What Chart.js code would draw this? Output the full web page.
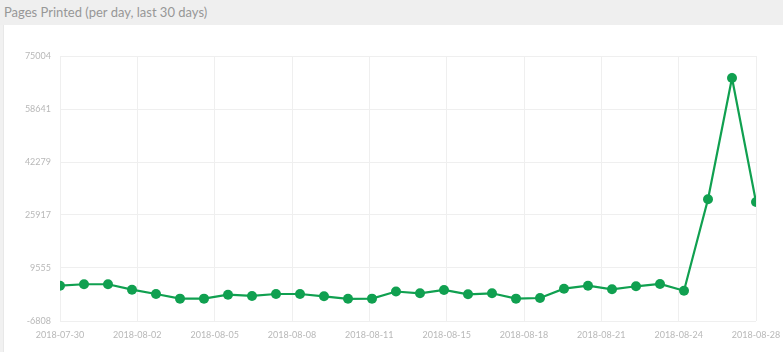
<!DOCTYPE html>
<html>
<head>
<meta charset="utf-8">
<script src="https://cdn.jsdelivr.net/npm/chart.js@4/dist/chart.umd.min.js"></script>
<style>
  html, body { margin: 0; padding: 0; background: #f1f1f1; }
  body { width: 783px; height: 352px; overflow: hidden; position: relative; font-family: Lato, sans-serif; }
  .header { position: absolute; left: 0; top: 0; width: 783px; height: 25px; background: #efefef; }
  .header span { position: absolute; left: 4px; top: 4px; font-size: 13px; color: #979797; }
  .panel { position: absolute; left: 3px; top: 25px; width: 780px; height: 327px; background: #fff; border-left: 1px solid #e8e8e8; }
  #pagesChart { position: absolute; left: 0; top: 0; }
</style>
</head>
<body>
<div class="header"><span>Pages Printed (per day, last 30 days)</span></div>
<div class="panel"><canvas id="pagesChart" width="780" height="327"></canvas></div>
<script>
const dates = [
  '2018-07-30', '2018-07-31', '2018-08-01', '2018-08-02', '2018-08-03', '2018-08-04',
  '2018-08-05', '2018-08-06', '2018-08-07', '2018-08-08', '2018-08-09', '2018-08-10',
  '2018-08-11', '2018-08-12', '2018-08-13', '2018-08-14', '2018-08-15', '2018-08-16',
  '2018-08-17', '2018-08-18', '2018-08-19', '2018-08-20', '2018-08-21', '2018-08-22',
  '2018-08-23', '2018-08-24', '2018-08-25', '2018-08-26', '2018-08-27', '2018-08-28'
];
const pages = [
  4100, 4530, 4530, 2860, 1530, 90, 90, 1320, 920, 1530, 1530, 820,
  40, 90, 2300, 1750, 2770, 1440, 1750, 90, 300, 3170, 4100, 2980,
  3910, 4620, 2550, 30770, 68185, 29930
];
const yTicks = [-6808, 9555, 25917, 42279, 58641, 75004];
const xTickCount = 10;

const points = pages.map((v, i) => ({ x: i, y: v }));
const green = '#10a050';

const ctx = document.getElementById('pagesChart').getContext('2d');
const pagesChart = new Chart(ctx, {
  type: 'line',
  data: {
    datasets: [{
      label: 'Pages',
      data: points,
      borderColor: green,
      backgroundColor: green,
      borderWidth: 2.2,
      pointRadius: 5,
      pointBorderWidth: 0,
      pointBackgroundColor: green,
      tension: 0,
      fill: false
    }]
  },
  options: {
    responsive: false,
    animation: false,
    layout: { padding: { left: 0, right: 28, top: 31, bottom: 0 } },
    plugins: { legend: { display: false }, tooltip: { enabled: false } },
    scales: {
      x: {
        type: 'linear',
        min: 0,
        max: dates.length - 1,
        afterBuildTicks: (axis) => {
          const n = dates.length - 1;
          axis.ticks = [];
          for (let k = 0; k < xTickCount; k++) axis.ticks.push({ value: n * k / (xTickCount - 1) });
        },
        afterFit: (axis) => {
          axis.height = 31;
          axis.paddingLeft = 0;
          axis.paddingRight = 0;
        },
        grid: { color: '#efefef', drawTicks: false },
        border: { display: false },
        ticks: {
          autoSkip: false,
          maxRotation: 0,
          padding: 9,
          color: '#b8b8b8',
          font: { family: 'Lato', size: 9 },
          callback: (v) => dates[Math.floor(v + 1e-6)]
        }
      },
      y: {
        min: yTicks[0],
        max: yTicks[yTicks.length - 1],
        afterBuildTicks: (axis) => { axis.ticks = yTicks.map(v => ({ value: v })); },
        afterFit: (axis) => { axis.width = 56; },
        grid: { color: '#efefef', drawTicks: false },
        border: { display: false },
        ticks: {
          padding: 9,
          color: '#b8b8b8',
          font: { family: 'Lato', size: 9 },
          callback: (v) => String(v)
        }
      }
    }
  }
});
</script>
</body>
</html>
